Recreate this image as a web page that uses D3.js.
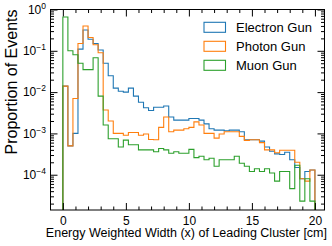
<!DOCTYPE html>
<html>
<head>
<meta charset="utf-8">
<script src="https://cdn.jsdelivr.net/npm/d3@7"></script>
<style>
  body { margin: 0; background: #fff; }
  text { font-family: "Liberation Sans", Arial, sans-serif; fill: #000; }
</style>
</head>
<body>
<div id="chart"></div>
<script>
// histogram: 50 bins of 0.4 cm from 0 to 20
var binStart = 0;
var binWidth = 0.4;

var electronGun = [0.014, 0.0005, 0.001, 0.11, 0.32, 0.19, 0.15, 0.105, 0.05, 0.025,
  0.0125, 0.0105, 0.01, 0.0125, 0.008, 0.0057, 0.0042, 0.0036, 0.0043, 0.0043,
  0.0046, 0.0025, 0.0021, 0.0021, 0.0021, 0.0023, 0.0023, 0.0021, 0.0017, 0.0013,
  0.0012, 0.0012, 0.00116, 0.0012, 0.0012, 0.0011, 0.0007, 0.0007, 0.0007, 0.00065,
  0.00047, 0.00037, 0.00032, 0.00031, 0.00035, 0.00023, 0.00015, 0.00008, 0.00012, 0.00013];

var photonGun = [0.014, 0.0005, 0.007, 0.15, 0.40, 0.21, 0.14, 0.09, 0.0037, 0.002,
  0.001, 0.001, 0.0009, 0.00105, 0.00105, 0.0009, 0.00097, 0.00071, 0.0007, 0.0014,
  0.0025, 0.0011, 0.0012, 0.0012, 0.0013, 0.0014, 0.0019, 0.0016, 0.001, 0.001,
  0.00077, 0.00097, 0.0011, 0.0011, 0.0011, 0.00085, 0.00068, 0.0007, 0.0007, 0.0006,
  0.0004, 0.0004, 0.00034, 0.00039, 0.00039, 0.00039, 0.0002, 0.00008, 0.00007, 0.00013];

var muonGun = [0.66, 0.1, 0.08, 0.05, 0.035, 0.035, 0.068, 0.008, 0.0016, 0.00074,
  0.00074, 0.00047, 0.00069, 0.00053, 0.00053, 0.0004, 0.0004, 0.0004, 0.00036, 0.00043,
  0.0004, 0.00033, 0.00036, 0.00033, 0.00033, 0.00041, 0.00026, 0.00028, 0.00023, 0.00025,
  0.00016, 0.00023, 0.00023, 0.00023, 0.00028, 0.00019, 0.00016, 0.00012, 0.00014, 0.00012,
  0.00014, 0.00011, 0.00007, 0.00012, 0.00012, 0.000046, 0.00017, 0.000023, 0.00008, 0.000023];

var seriesNames = ["Electron Gun", "Photon Gun", "Muon Gun"];
var seriesColors = ["#1f77b4", "#ff7f0e", "#2ca02c"];
var seriesData = [electronGun, photonGun, muonGun];

var xMajorTicks = [0, 5, 10, 15, 20];
var yMajorExp = [0, -1, -2, -3, -4];

var svgWidth = 332;
var svgHeight = 246;

// axes box (note: "top" is a reserved window name, so use box*)
var boxLeft = 50.5, boxRight = 324.5, boxTop = 9.5, boxBottom = 210;

var svg = d3.select("#chart")
  .append("svg")
  .attr("width", svgWidth)
  .attr("height", svgHeight);

var x = d3.scaleLinear().domain([-0.98, 20.76]).range([boxLeft, boxRight]);
var y = d3.scaleLog().domain([1.4e-5, 1]).range([boxBottom, boxTop]);

// clip to the axes box
svg.append("clipPath").attr("id", "clip")
  .append("rect")
  .attr("x", boxLeft).attr("y", boxTop)
  .attr("width", boxRight - boxLeft).attr("height", boxBottom - boxTop);

// step outline for each histogram
var line = d3.line().x(d => x(d[0])).y(d => y(d[1]));
var yFloor = y.domain()[0];

function stepPoints(vals) {
  var pts = [[binStart, yFloor]];
  vals.forEach(function(v, i) {
    var e0 = binStart + i * binWidth;
    var e1 = e0 + binWidth;
    var vv = v > 0 ? v : yFloor;
    pts.push([e0, vv]);
    pts.push([e1, vv]);
  });
  pts.push([binStart + vals.length * binWidth, yFloor]);
  return pts;
}

var plot = svg.append("g").attr("clip-path", "url(#clip)");
seriesData.forEach(function(vals, k) {
  plot.append("path")
    .attr("d", line(stepPoints(vals)))
    .attr("fill", "none")
    .attr("stroke", seriesColors[k])
    .attr("stroke-width", 1.1)
    .attr("stroke-linejoin", "miter");
});

// ticks (inward on all four sides)
var xMinor = d3.range(0, 21).filter(v => xMajorTicks.indexOf(v) < 0);
var yMajor = yMajorExp.map(e => Math.pow(10, e));
var yMinor = [];
[-5, -4, -3, -2, -1].forEach(function(e) {
  for (var m = 2; m <= 9; m++) {
    var v = m * Math.pow(10, e);
    if (v >= yFloor && v <= 1) yMinor.push(v);
  }
});

function styleAxis(g) {
  g.select(".domain").remove();
  g.selectAll(".tick line").attr("stroke", "#000").attr("stroke-width", 1);
}

svg.append("g").attr("transform", `translate(0,${boxBottom})`)
  .call(d3.axisBottom(x).tickValues(xMajorTicks).tickSize(-7).tickPadding(6.5).tickFormat(d3.format("d")))
  .call(styleAxis)
  .call(g => g.selectAll("text").attr("font-size", 12).attr("font-family", "Liberation Sans, Arial, sans-serif"));
svg.append("g").attr("transform", `translate(0,${boxBottom})`)
  .call(d3.axisBottom(x).tickValues(xMinor).tickSize(-3.5).tickFormat(""))
  .call(styleAxis);
svg.append("g").attr("transform", `translate(0,${boxTop})`)
  .call(d3.axisTop(x).tickValues(xMajorTicks).tickSize(-7).tickFormat(""))
  .call(styleAxis);
svg.append("g").attr("transform", `translate(0,${boxTop})`)
  .call(d3.axisTop(x).tickValues(xMinor).tickSize(-3.5).tickFormat(""))
  .call(styleAxis);

svg.append("g").attr("transform", `translate(${boxLeft},0)`)
  .call(d3.axisLeft(y).tickValues(yMajor).tickSize(-7).tickFormat(""))
  .call(styleAxis);
svg.append("g").attr("transform", `translate(${boxLeft},0)`)
  .call(d3.axisLeft(y).tickValues(yMinor).tickSize(-3.5).tickFormat(""))
  .call(styleAxis);
svg.append("g").attr("transform", `translate(${boxRight},0)`)
  .call(d3.axisRight(y).tickValues(yMajor).tickSize(-7).tickFormat(""))
  .call(styleAxis);
svg.append("g").attr("transform", `translate(${boxRight},0)`)
  .call(d3.axisRight(y).tickValues(yMinor).tickSize(-3.5).tickFormat(""))
  .call(styleAxis);

// log labels 10^n
yMajorExp.forEach(function(e) {
  var t = svg.append("text")
    .attr("x", boxLeft - 4.5)
    .attr("y", y(Math.pow(10, e)) + 4.3)
    .attr("text-anchor", "end")
    .attr("font-size", 12);
  t.append("tspan").text("10");
  t.append("tspan")
    .attr("dy", -5)
    .attr("font-size", 8.5)
    .text(e === 0 ? "0" : "\u2212" + Math.abs(e));
});

// frame
svg.append("rect")
  .attr("x", boxLeft).attr("y", boxTop)
  .attr("width", boxRight - boxLeft).attr("height", boxBottom - boxTop)
  .attr("fill", "none").attr("stroke", "#000").attr("stroke-width", 1);

// axis titles, matplotlib-hep style (aligned to the ends)
svg.append("text")
  .attr("x", 327).attr("y", 236.5)
  .attr("text-anchor", "end")
  .attr("font-size", 12.5)
  .text("Energy Weighted Width (x) of Leading Cluster [cm]");

svg.append("text")
  .attr("transform", `translate(17,${boxTop}) rotate(-90)`)
  .attr("text-anchor", "end")
  .attr("font-size", 16)
  .text("Proportion of Events");

// legend
var legend = svg.append("g").attr("transform", "translate(204,22.3)");
seriesNames.forEach(function(name, k) {
  legend.append("rect")
    .attr("x", 0).attr("y", k * 19)
    .attr("width", 21.5).attr("height", 10)
    .attr("fill", "none")
    .attr("stroke", seriesColors[k])
    .attr("stroke-width", 1.1);
  legend.append("text")
    .attr("x", 32).attr("y", k * 19 + 9.6)
    .attr("font-size", 13)
    .text(name);
});
</script>
</body>
</html>
